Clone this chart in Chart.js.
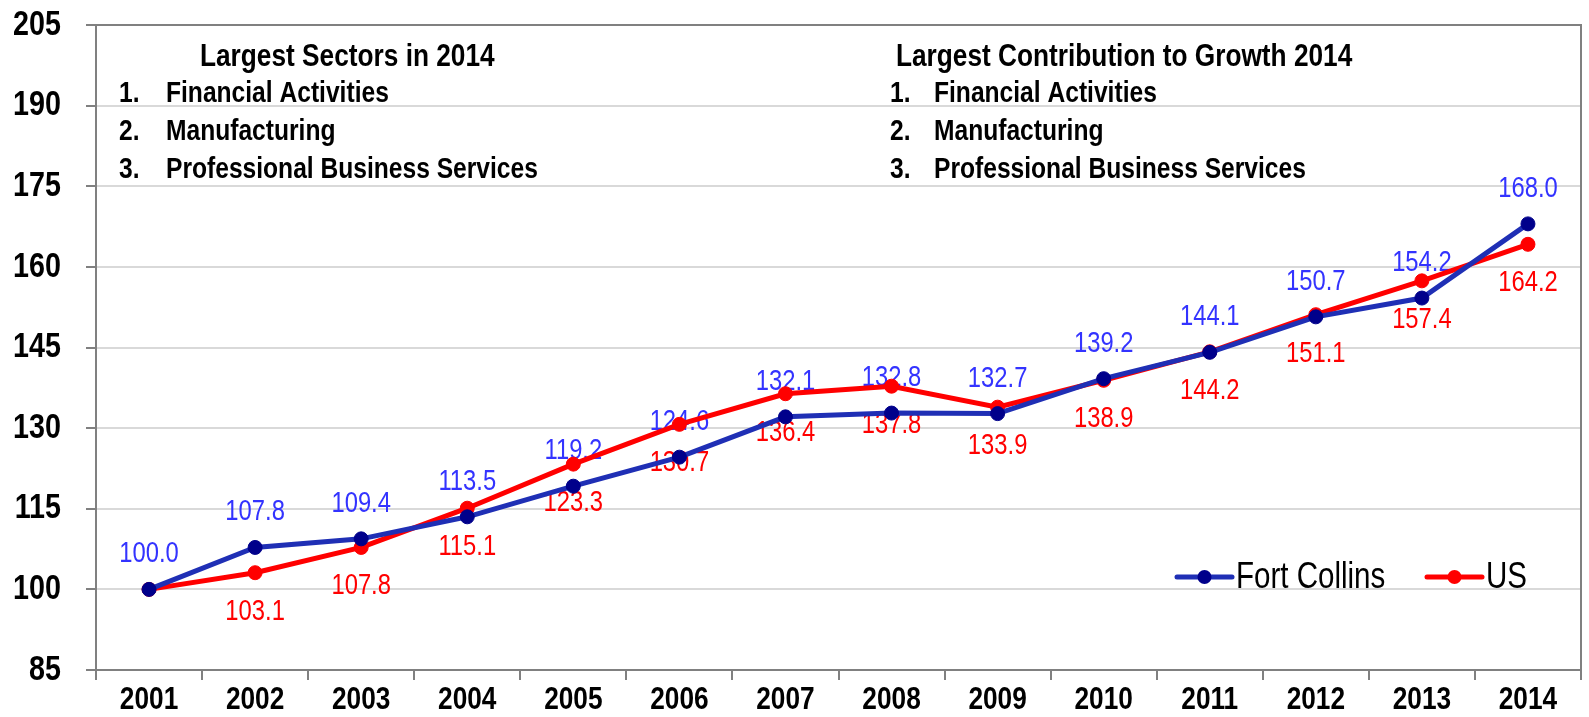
<!DOCTYPE html>
<html>
<head>
<meta charset="utf-8">
<script src="https://cdn.jsdelivr.net/npm/chart.js@4/dist/chart.umd.min.js"></script>
<style>
  html, body { margin: 0; padding: 0; background: #fff; }
  #wrap { width: 1589px; height: 717px; }
</style>
</head>
<body>
<div id="wrap"><canvas id="mycanvas" width="1589" height="717"></canvas></div>
<script>
// data
var years = ['2001','2002','2003','2004','2005','2006','2007','2008','2009','2010','2011','2012','2013','2014'];
var fortCollins = [100.0, 107.8, 109.4, 113.5, 119.2, 124.6, 132.1, 132.8, 132.7, 139.2, 144.1, 150.7, 154.2, 168.0];
var us = [100.0, 103.1, 107.8, 115.1, 123.3, 130.7, 136.4, 137.8, 133.9, 138.9, 144.2, 151.1, 157.4, 164.2];
var yTicks = [85, 100, 115, 130, 145, 160, 175, 190, 205];

var leftTitle = 'Largest Sectors in 2014';
var rightTitle = 'Largest Contribution to Growth 2014';
var sectorItems = ['Financial Activities', 'Manufacturing', 'Professional Business Services'];
var growthItems = ['Financial Activities', 'Manufacturing', 'Professional Business Services'];

// no narrow font here, so squeeze Liberation Sans like Arial Narrow
var FAM = "'Liberation Sans', Arial, sans-serif";
var SQUEEZE = 0.82;

function narrowText(ctx, txt, x, y, font, color, align) {
  ctx.save();
  ctx.font = font;
  ctx.fillStyle = color;
  ctx.textAlign = align || 'left';
  ctx.textBaseline = 'middle';
  ctx.translate(x, y);
  ctx.scale(SQUEEZE, 1);
  ctx.fillText(txt, 0, 0);
  ctx.restore();
}

// value labels, drawn under the lines
var valueLabels = {
  id: 'valueLabels',
  beforeDatasetsDraw: function(chart) {
    var ctx = chart.ctx;
    chart.data.datasets.forEach(function(ds, i) {
      var meta = chart.getDatasetMeta(i);
      meta.data.forEach(function(pt, j) {
        if (i == 1 && j == 0) return;
        narrowText(ctx, ds.data[j].toFixed(1), pt.x, pt.y + ds.labelOffset, '29px ' + FAM, ds.labelColor, 'center');
      });
    });
  }
};

// tick labels, frame, text boxes and legend
var extras = {
  id: 'extras',
  afterDraw: function(chart) {
    var ctx = chart.ctx;
    var a = chart.chartArea;
    var xs = chart.scales.x, ys = chart.scales.y;

    ys.ticks.forEach(function(t) {
      narrowText(ctx, String(t.value), 61, ys.getPixelForValue(t.value), 'bold 35px ' + FAM, '#000', 'right');
    });
    years.forEach(function(lab, i) {
      narrowText(ctx, lab, xs.getPixelForValue(i), 700, 'bold 32px ' + FAM, '#000', 'center');
    });

    ctx.save();
    ctx.strokeStyle = '#808080';
    ctx.lineWidth = 2;
    ctx.strokeRect(a.left, a.top, a.right - a.left, a.bottom - a.top);
    ctx.restore();

    var hf = 'bold 32px ' + FAM;
    var bf = 'bold 30px ' + FAM;
    narrowText(ctx, leftTitle, 200, 57, hf, '#000');
    narrowText(ctx, rightTitle, 896, 57, hf, '#000');
    for (var k = 0; k < 3; k++) {
      var y = 94 + k * 38;
      narrowText(ctx, (k + 1) + '.', 119, y, bf, '#000');
      narrowText(ctx, sectorItems[k], 166, y, bf, '#000');
      narrowText(ctx, (k + 1) + '.', 890, y, bf, '#000');
      narrowText(ctx, growthItems[k], 934, y, bf, '#000');
    }

    // legend
    var items = [
      {x: 1177, ds: chart.data.datasets[0]},
      {x: 1427, ds: chart.data.datasets[1]}
    ];
    items.forEach(function(it) {
      var ly = 577;
      ctx.save();
      ctx.strokeStyle = it.ds.borderColor;
      ctx.lineWidth = 5;
      ctx.lineCap = 'round';
      ctx.beginPath();
      ctx.moveTo(it.x, ly);
      ctx.lineTo(it.x + 55, ly);
      ctx.stroke();
      ctx.fillStyle = it.ds.pointBackgroundColor;
      ctx.beginPath();
      ctx.arc(it.x + 27.5, ly, 7, 0, Math.PI * 2);
      ctx.fill();
      ctx.restore();
      narrowText(ctx, it.ds.label, it.x + 59, ly + 1, '36px ' + FAM, '#000');
    });
  }
};

var ctx = document.getElementById('mycanvas');
var chart = new Chart(ctx, {
  type: 'line',
  data: {
    labels: years,
    datasets: [
      {
        label: 'Fort Collins',
        data: fortCollins,
        borderColor: '#1F2FB5',
        borderWidth: 5,
        pointBackgroundColor: '#00008B',
        pointBorderColor: '#00008B',
        pointRadius: 7,
        pointBorderWidth: 1,
        labelColor: '#3333FF',
        labelOffset: -35,
        tension: 0
      },
      {
        label: 'US',
        data: us,
        borderColor: '#FF0000',
        borderWidth: 5,
        pointBackgroundColor: '#FF0000',
        pointBorderColor: '#FF0000',
        pointRadius: 7,
        pointBorderWidth: 1,
        labelColor: '#FF0000',
        labelOffset: 39,
        tension: 0
      }
    ]
  },
  options: {
    responsive: false,
    animation: false,
    layout: { padding: { top: 25, right: 3, left: 0, bottom: 0 } },
    plugins: {
      legend: { display: false },
      tooltip: { enabled: false }
    },
    scales: {
      x: {
        offset: true,
        grid: { drawOnChartArea: false, offset: true, tickLength: 10, tickColor: '#808080', lineWidth: 2 },
        border: { color: '#808080', width: 2 },
        ticks: { display: false },
        afterFit: function(scale) { scale.height = 47; }
      },
      y: {
        min: 85,
        max: 205,
        afterBuildTicks: function(scale) {
          scale.ticks = yTicks.map(function(v) { return {value: v}; });
        },
        grid: { color: '#D9D9D9', lineWidth: 2, tickLength: 10, tickColor: '#808080' },
        border: { color: '#808080', width: 2 },
        ticks: { display: false },
        afterFit: function(scale) { scale.width = 96; }
      }
    }
  },
  plugins: [valueLabels, extras]
});
</script>
</body>
</html>
